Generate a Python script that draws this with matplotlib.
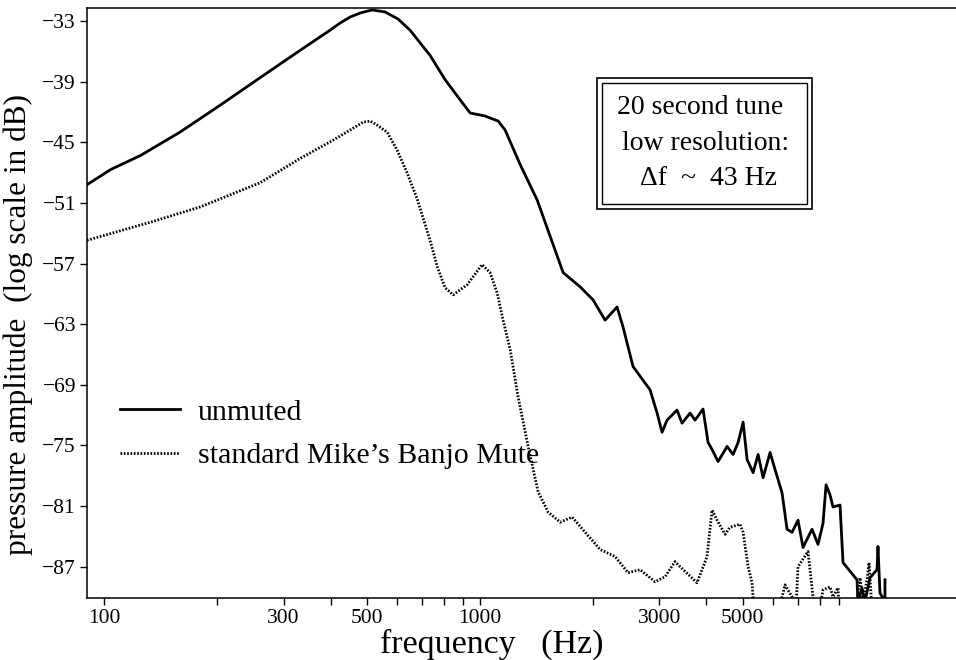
import numpy as np
import matplotlib
matplotlib.use("Agg")
import matplotlib.pyplot as plt
from matplotlib.patches import Rectangle

plt.rcParams['font.family'] = ['Liberation Serif', 'DejaVu Serif']

# unmuted spectrum (frequency in Hz, level in dB)
freq_unmuted = [90, 104, 125, 159, 204, 260, 332, 399, 424, 451, 480, 516, 559, 605, 651,
                736, 807, 885, 941, 1031, 1117, 1166, 1278, 1418, 1584, 1663, 1845, 1998,
                2150, 2314, 2401, 2552, 2832, 2957, 3048, 3143, 3341, 3445, 3619, 3731,
                3918, 4040, 4140, 4296, 4540, 4710, 4857, 5008, 5132, 5324, 5490, 5660,
                5907, 6091, 6357, 6554, 6758, 7010, 7228, 7638, 7924, 8171, 8323, 8529,
                8686, 9066, 9235, 10060, 10120, 10375, 10566, 10895, 11372, 11440, 11580,
                11942, 11942]
db_unmuted = [-49.2, -47.7, -46.3, -44.0, -41.3, -38.6, -35.9, -33.9, -33.2, -32.6, -32.2,
              -31.9, -32.1, -32.8, -33.9, -36.4, -38.8, -40.8, -42.1, -42.4, -42.9, -43.8,
              -47.2, -50.7, -55.7, -57.9, -59.3, -60.6, -62.6, -61.3, -63.3, -67.2, -69.5,
              -71.8, -73.7, -72.5, -71.5, -72.8, -71.8, -72.5, -71.4, -74.7, -75.4, -76.6,
              -75.1, -75.9, -74.7, -72.7, -76.4, -77.7, -75.9, -78.2, -75.7, -77.4, -79.7,
              -83.3, -83.6, -82.4, -85.1, -83.3, -84.8, -82.7, -78.9, -79.9, -81.1, -80.9,
              -86.6, -88.3, -90.5, -89.1, -90.5, -88.1, -87.3, -85.0, -89.6, -90.5, -88.3]

# with standard Mike's Banjo Mute
freq_muted = [90, 133, 180, 260, 332, 406, 489, 510, 532, 566, 602, 639, 680, 736, 769,
              807, 848, 924, 1012, 1063, 1110, 1151, 1202, 1262, 1342, 1427, 1517, 1633,
              1757, 1903, 2085, 2286, 2475, 2665, 2921, 3105, 3300, 3403, 3777, 4015,
              4140, 4269, 4484, 4623, 4915, 5008, 5163, 5290, 5388, 6204, 6357, 6475,
              6758, 6882, 7010, 7452, 7684, 7826, 8171, 8529, 8686, 8956, 9066, 9818,
              10250, 10437, 10698, 10830, 11097]
db_muted = [-54.7, -52.9, -51.4, -49.0, -46.6, -44.8, -43.0, -42.9, -43.3, -44.0, -45.8,
            -48.0, -50.6, -54.7, -57.3, -59.4, -60.1, -59.1, -57.1, -57.9, -59.9, -62.6,
            -65.5, -70.2, -75.1, -79.6, -81.6, -82.6, -82.1, -83.6, -85.3, -86.0, -87.6,
            -87.3, -88.5, -88.0, -86.5, -87.0, -88.6, -86.0, -81.4, -82.4, -83.8, -83.1,
            -82.8, -83.6, -87.0, -88.6, -93.0, -93.0, -90.0, -88.8, -90.0, -93.0, -87.0,
            -85.5, -90.0, -93.0, -89.3, -89.0, -90.0, -89.1, -93.0, -93.0, -88.1, -90.5,
            -88.3, -86.6, -93.0]

y_ticks = [-33, -39, -45, -51, -57, -63, -69, -75, -81, -87]
x_ticks = [100, 200, 300, 400, 500, 600, 700, 800, 900,
           1000, 2000, 3000, 4000, 5000, 6000, 7000, 8000, 9000]
x_labeled = [100, 300, 500, 1000, 3000, 5000]

fig = plt.figure(figsize=(9.56, 6.6), dpi=100)
ax = fig.add_axes([0.091, 0.094, 0.909, 0.894])

ax.plot(freq_unmuted, db_unmuted, color='black', lw=2, label='unmuted')
ax.plot(freq_muted, db_muted, color='black', lw=2, linestyle=(0, (0.6, 0.6)),
        label='standard Mike\u2019s Banjo Mute')

ax.set_xscale('log')
ax.set_xlim(90, 18450)
ax.set_ylim(-90.1, -31.7)

ax.set_xticks(x_ticks)
ax.set_xticklabels([str(t) if t in x_labeled else '' for t in x_ticks])
ax.xaxis.set_minor_locator(matplotlib.ticker.NullLocator())
ax.set_yticks(y_ticks)
ax.set_yticklabels(['\u2212%d' % -t for t in y_ticks])
ax.tick_params(direction='out', length=5, width=1, labelsize=15.5, pad=3)

ax.spines['right'].set_visible(False)
for s in ['left', 'top', 'bottom']:
    ax.spines[s].set_linewidth(1.1)

ax.set_xlabel('frequency   (Hz)', fontsize=24.5)
ax.xaxis.set_label_coords(0.466, -0.052)
ax.set_ylabel('pressure amplitude  (log scale in dB)', fontsize=22.5)
ax.yaxis.set_label_coords(-0.062, 0.463)

ax.legend(loc='center left', bbox_to_anchor=(0.007, 0.278), frameon=False, fontsize=21.5,
          handlelength=2.0, handletextpad=0.6, labelspacing=0.55)

# annotation box with double border
fig.add_artist(Rectangle((597/956, 1-209/660), 215/956, 131/660, transform=fig.transFigure,
                         fill=False, lw=1.2, color='black'))
fig.add_artist(Rectangle((602/956, 1-204/660), 205/956, 121/660, transform=fig.transFigure,
                         fill=False, lw=1.0, color='black'))
fig.text(700/956, 1-107/660, '20 second tune', ha='center', va='center', fontsize=20)
fig.text(706/956, 1-143/660, 'low resolution:', ha='center', va='center', fontsize=20)
fig.text(708/956, 1-178/660, '\u0394f  ~  43 Hz', ha='center', va='center', fontsize=20)

fig.savefig('out.png', dpi=100)
